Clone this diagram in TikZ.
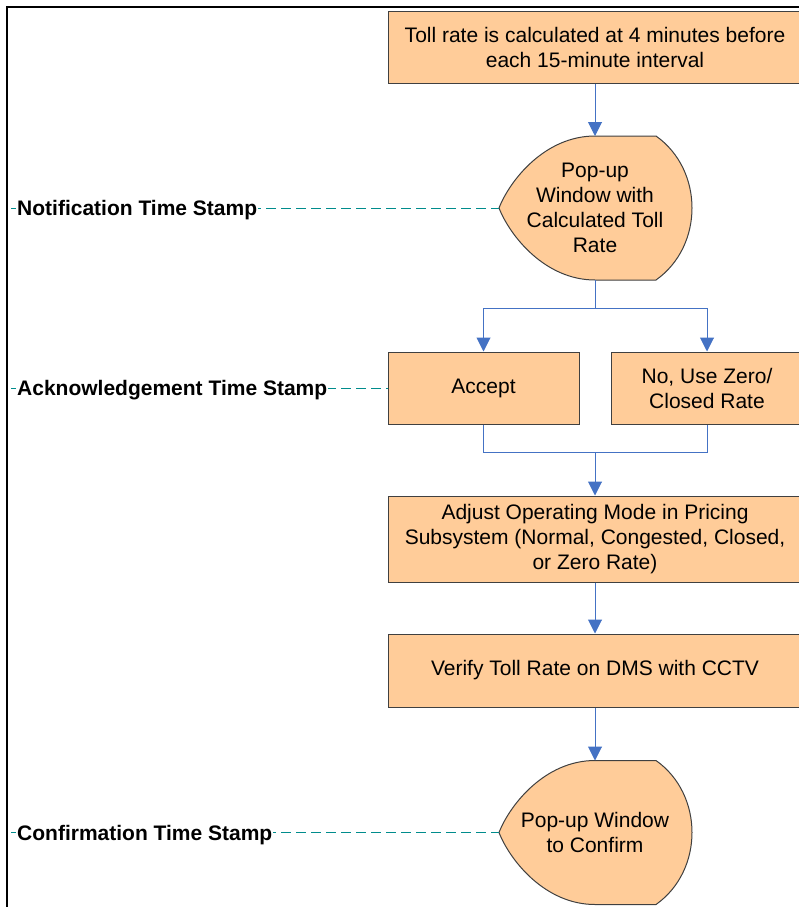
\documentclass[tikz,border=0pt]{standalone}
\usepackage{fontspec}
\setmainfont{Liberation Sans}
\usepackage{tikz}
\usetikzlibrary{arrows.meta}
\definecolor{peach}{RGB}{255,204,153}
\definecolor{flowblue}{RGB}{68,114,196}
\definecolor{stampteal}{RGB}{0,140,140}
\definecolor{edgegray}{RGB}{64,64,64}

\begin{document}
\begin{tikzpicture}[x=1pt,y=-1pt,
                stepbox/.style={draw=edgegray,fill=peach,line width=1pt,align=center,inner sep=0pt,font=\fontsize{21}{25}\selectfont},
                popuptext/.style={align=center,inner sep=0pt,font=\fontsize{21}{25}\selectfont},
                flow/.style={flowblue,line width=1pt,-{Triangle[width=14pt,length=14pt]}},
                wire/.style={flowblue,line width=1pt},
                stamp/.style={fill=white,anchor=base west,inner xsep=1pt,inner ysep=1pt,font=\bfseries\fontsize{21}{25}\selectfont},
                stampline/.style={stampteal,line width=1pt,dash pattern=on 10pt off 5pt},
                popup/.pic={
                    \filldraw [draw=edgegray,fill=peach,line width=1pt] (0,-72) -- (61,-72) .. controls (109,-38) and (109,38) .. (61,72) -- (0,72) .. controls (-50,72) and (-85,28) .. (-96,0) .. controls (-85,-28) and (-50,-72) .. (0,-72) -- cycle;
                    \coordinate (-top) at (0,-72);
                    \coordinate (-bottom) at (0,72);
                    \coordinate (-tip) at (-96,0);
                }]
                \useasboundingbox (0,0) rectangle (798,907);
                \draw [line width=2pt] (7,920) -- (7,7) -- (810,7);

                \node [stepbox,minimum width=414pt,minimum height=71pt] (calc) at (595,47.5) {Toll rate is calculated at 4 minutes before\\each 15-minute interval};
                \pic (notify) at (595,208) {popup};
                \node [popuptext] (notifytext) at (595,208) {Pop-up\\Window with\\Calculated Toll\\Rate};
                \node [stepbox,minimum width=191pt,minimum height=72pt] (accept) at (483.5,388) {Accept};
                \node [stepbox,minimum width=192pt,minimum height=72pt] (reject) at (707,388) {No, Use Zero/\\Closed Rate};
                \node [stepbox,minimum width=414pt,minimum height=86pt] (adjust) at (595,539) {Adjust Operating Mode in Pricing\\Subsystem (Normal, Congested, Closed,\\or Zero Rate)};
                \node [stepbox,minimum width=414pt,minimum height=73pt] (verify) at (595,670.5) {Verify Toll Rate on DMS with CCTV};
                \pic (confirm) at (595,832.5) {popup};
                \node [popuptext] (confirmtext) at (595,832.5) {Pop-up Window\\to Confirm};

                \draw [flow] (calc) -- (notify-top);
                \draw [wire] (notify-bottom) -- ++(0,28) coordinate (split);
                \draw [flow] (split) -| (accept);
                \draw [flow] (split) -| (reject);
                \draw [wire] (accept.south) -- ++(0,28) coordinate (merge) -| (reject.south);
                \draw [flow] (merge -| adjust.north) -- (adjust);
                \draw [flow] (adjust) -- (verify);
                \draw [flow] (verify) -- (confirm-top);

                \coordinate (nfree) at (11,208);
                \coordinate (afree) at (11,388);
                \coordinate (cfree) at (11,832.5);
                \draw [stampline] (nfree) -- (notify-tip);
                \draw [stampline] (afree) -- (accept.west);
                \draw [stampline] (cfree) -- (confirm-tip);
                \node [stamp] (nstamp) at (16,215.5) {Notification Time Stamp};
                \node [stamp] (astamp) at (16,395.5) {Acknowledgement Time Stamp};
                \node [stamp] (cstamp) at (16,840) {Confirmation Time Stamp};
            \end{tikzpicture}
\end{document}
